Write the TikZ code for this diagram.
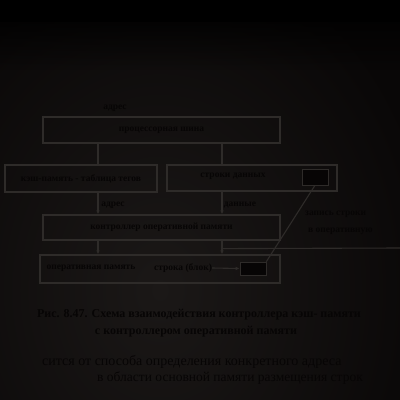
\documentclass[tikz,border=0pt]{standalone}
\usepackage{fontspec}
\setmainfont{Liberation Serif}
\usetikzlibrary{arrows.meta,calc,fadings}
\definecolor{bgc}{RGB}{27,24,23}
\definecolor{edgec}{RGB}{9,7,7}
\definecolor{linec}{RGB}{46,43,41}
\definecolor{txt}{RGB}{7,5,5}
\begin{document}
\begin{tikzpicture}[x=1pt,y=-1pt,
  box/.style={draw=linec,line width=1.2pt,minimum height=#1,inner sep=0pt},
  lab/.style={text=txt,font=\fontsize{9.5}{11}\selectfont\bfseries,inner sep=0pt},
  blk/.style={fill=txt,draw=linec,line width=0.6pt,inner sep=0pt},
  conn/.style={draw=linec,line width=1.1pt},
  arr/.style={conn,-{Latex[length=4pt,width=3.5pt]}}]
\useasboundingbox (0,0) rectangle (400,400);
% background
\shade[inner color=bgc,outer color=edgec] (-120,-60) rectangle (440,640);
\fill[black,path fading=south] (0,0) rectangle (400,70);
\fill[black] (0,0) rectangle (400,22);
% boxes
\node[box=26pt,minimum width=237pt] (top) at (161.5,130) {};
\node[lab] at (top.center) {процессорная шина};
\node[box=27pt,minimum width=152pt] (left) at (81,178.5) {};
\node[lab] at (left.center) {кэш-память - таблица тегов};
\node[box=26pt,minimum width=170pt] (rbox) at (252,178) {};
\node[lab] (rtext) at (233,176) {строки данных};
\node[blk,minimum width=26pt,minimum height=16pt] (s1) at (315,177) {};
\node[box=25pt,minimum width=237pt] (mid) at (161.5,227.5) {};
\node[lab] at (mid.center) {контроллер оперативной памяти};
\node[box=28pt,minimum width=240pt] (bot) at (160,269) {};
\node[lab] (om) at (91,268) {оперативная память};
\node[lab] (blk) at (183,268) {строка (блок)};
\node[blk,minimum width=26pt,minimum height=13pt] (s2) at (253,268.5) {};
% labels
\node[lab] (a0) at (115,108) {адрес};
\node[lab] (a1) at (113,205) {адрес};
\node[lab] (d1) at (240,205) {данные};
\node[lab,anchor=west] (r1) at (305,214) {запись строки};
\node[lab,anchor=west] (r2) at (308,231) {в оперативную};
% connector x positions
\coordinate (xa) at (98,0);
\coordinate (xb) at (222,0);
\coordinate (re) at (400,248);
\draw[conn] (top.south -| xa) -- (left.north -| xa);
\draw[conn] (top.south -| xb) -- (rbox.north -| xb);
\draw[arr] (left.south -| xa) -- (mid.north -| xa);
\draw[arr] (rbox.south -| xb) -- (mid.north -| xb);
\draw[arr] (mid.south -| xa) -- (bot.north -| xa);
\draw[arr] (mid.south -| xb) -- (bot.north -| xb);
\draw[conn] (mid.south -| xb) ++(0,8) coordinate (hb) -- (re);
\draw[conn] (s1.south) -- (s2.north east);
\draw[arr] (blk.east) -- (s2.west);
% caption
\node[lab,font=\fontsize{12}{14}\selectfont\bfseries] (cap1) at (199,315) {Рис. 8.47. Схема взаимодействия контроллера кэш- памяти};
\node[lab,font=\fontsize{12}{14}\selectfont\bfseries] (cap2) at (196,332) {с контроллером оперативной памяти};
\node[lab,font=\fontsize{14}{16}\selectfont,anchor=west] (b1) at (42,362) {сится от способа определения конкретного адреса};
\node[lab,font=\fontsize{13.5}{16}\selectfont,anchor=west] (b2) at (97,378) {в области основной памяти размещения строк};
\end{tikzpicture}
\end{document}
